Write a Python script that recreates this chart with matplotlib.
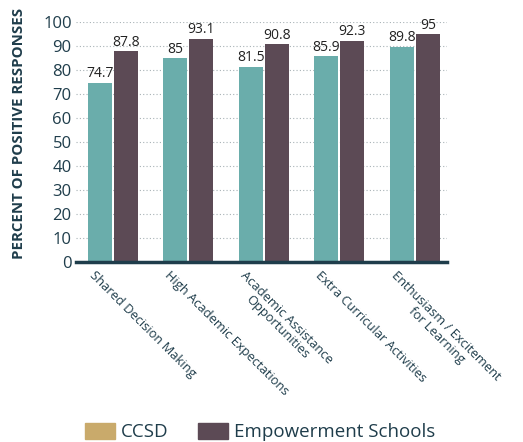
import matplotlib.pyplot as plt
import matplotlib.transforms as mtransforms
from matplotlib.patches import Patch
import numpy as np

plt.rcParams['font.family'] = ['Open Sans', 'DejaVu Sans']

# data
categories = ['Shared Decision Making', 'High Academic Expectations',
              'Academic Assistance\nOpportunities', 'Extra Curricular Activities',
              'Enthusiasm / Excitement\nfor Learning']
ccsd = [74.7, 85, 81.5, 85.9, 89.8]
empowerment = [87.8, 93.1, 90.8, 92.3, 95]
series_names = ['CCSD', 'Empowerment Schools']

TEAL = '#6aadab'
PLUM = '#5c4a55'
TAN = '#c9aa6b'
DARK = '#1f3d4b'

fig = plt.figure(figsize=(5.23, 4.42), dpi=100)
ax = fig.add_axes([0.145, 0.407, 0.71, 0.543])

x = np.arange(len(categories))
w = 0.32
off = 0.173
b1 = ax.bar(x - off, ccsd, w, color=TEAL, zorder=3)
b2 = ax.bar(x + off, empowerment, w, color=PLUM, zorder=3)
for bars in (b1, b2):
    labs = ax.bar_label(bars, padding=1, fontsize=10, color='#222222')
    for t in labs:
        t.set_clip_on(False)

ax.set_xlim(-0.49, 4.43)
ax.set_ylim(0, 100)
ax.set_yticks(range(0, 101, 10))
ax.tick_params(axis='y', length=0, labelsize=12, labelcolor=DARK, pad=3)
ax.yaxis.grid(True, linestyle=(0, (1, 2)), color='#a8b2b6', linewidth=0.8, zorder=0)

ax.set_xticks(x)
ax.set_xticklabels(categories, rotation=-45, ha='left', va='top',
                   rotation_mode='anchor', fontsize=9.3, color=DARK,
                   multialignment='center', linespacing=1.0)
ax.tick_params(axis='x', length=0, pad=5)
shift = mtransforms.ScaledTranslation(-17 / 100, 0, fig.dpi_scale_trans)
for lbl in ax.get_xticklabels():
    lbl.set_transform(lbl.get_transform() + shift)

for s in ('left', 'right', 'top'):
    ax.spines[s].set_visible(False)
ax.spines['bottom'].set_color(DARK)
ax.spines['bottom'].set_linewidth(2.5)
ax.spines['bottom'].set_zorder(4)

ax.set_ylabel('PERCENT OF POSITIVE RESPONSES', fontsize=10.8, fontweight='bold',
              color=DARK)
ax.yaxis.set_label_coords(-0.135, 0.535)

handles = [Patch(color=TAN), Patch(color=PLUM)]
fig.legend(handles, series_names, loc='lower left', bbox_to_anchor=(0.13, -0.037),
           ncol=2, frameon=False, fontsize=13.5, handlelength=1.6, handleheight=1.0,
           handletextpad=0.3, columnspacing=1.6, labelcolor=DARK)

fig.savefig('out.png', dpi=100)
